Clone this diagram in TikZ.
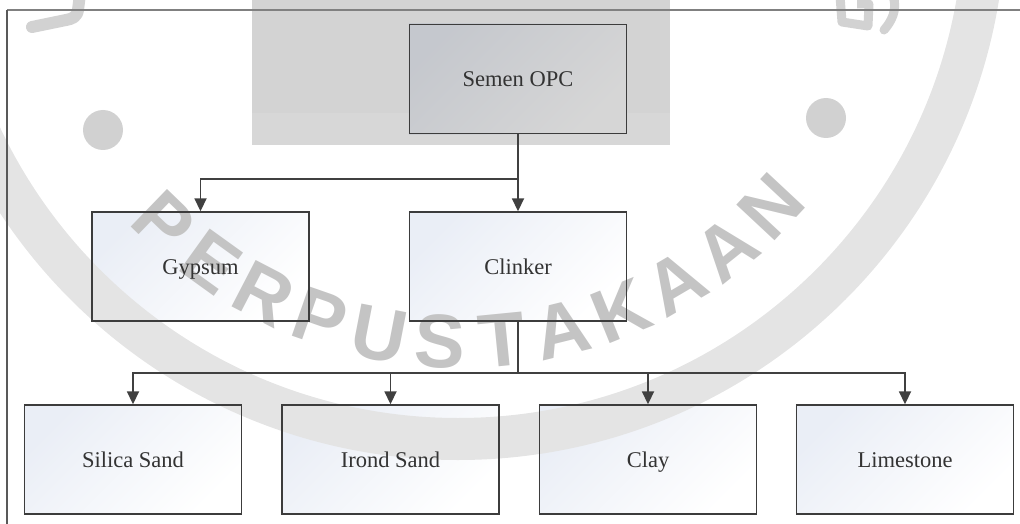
\documentclass[tikz,border=0pt]{standalone}
\usepackage{fontspec}
\setmainfont{Liberation Serif}
\newfontfamily\markfont{Liberation Sans}
\usetikzlibrary{arrows.meta}
\pgfdeclarelayer{fills}
\pgfdeclarelayer{mark}
\pgfsetlayers{fills,mark,main}
\definecolor{ink}{HTML}{333333}
\definecolor{edge}{HTML}{3C3C3C}
\definecolor{wire}{HTML}{404040}
\definecolor{mist}{HTML}{EAEEF6}
\definecolor{stamp}{HTML}{C4C4C4}
\definecolor{ring}{HTML}{E4E4E4}
\definecolor{slab}{HTML}{D3D3D3}
\definecolor{slablow}{HTML}{D7D7D7}
\definecolor{dot}{HTML}{D1D1D1}
\definecolor{glyph}{HTML}{D2D2D2}
\begin{document}
\begin{tikzpicture}[x=1pt,y=-1pt,
  box/.style={draw=edge, line width=1.4pt, minimum width=217pt, minimum height=109pt,
    inner sep=0pt, text=ink, text height=20pt, text depth=5pt,
    font=\fontsize{22.5}{27}\selectfont},
  arr/.style={draw=wire, line width=1.8pt, -{Triangle[width=12pt,length=13pt]}},
  boxfill/.style={top color=mist, bottom color=white, shading angle=45},
  letter/.style={text=stamp, inner sep=0pt,
    font=\markfont\bfseries\fontsize{76}{76}\selectfont}]
\useasboundingbox (0,0) rectangle (1020,524);

% --- boxes ---
\node[box] (opc) at (518,79)      {Semen OPC};
\node[box] (gyp) at (200.5,266.5) {Gypsum};
\node[box] (clk) at (518,266.5)   {Clinker};
\node[box] (sil) at (133,459.5)   {Silica Sand};
\node[box] (irn) at (390.5,459.5) {Irond Sand};
\node[box] (cly) at (648,459.5)   {Clay};
\node[box] (lim) at (905,459.5)   {Limestone};

% --- connectors ---
\draw[arr] (opc.south) -- ++(0,45) -| (gyp.north);
\draw[arr] (opc.south) -- (clk.north);
\foreach \n in {sil,irn,cly,lim}
  \draw[arr] (clk.south) -- ++(0,51) -| (\n.north);

% --- frame ---
\draw[draw=black!50, line width=1.6pt] (7,10) -- (1020,10);
\draw[draw=black!65, line width=1.2pt] (7,10) -- (7,524);

% --- box fills and grey panel ---
\begin{pgfonlayer}{fills}
  \fill[slab] (252,0) rectangle (670,145);
  \fill[slablow] (252,113) rectangle (670,145);
  \shade[top color=black!20!mist!85, bottom color=black!16, shading angle=45]
    (opc.north west) rectangle (opc.south east);
  \foreach \n in {gyp,clk,sil,irn,cly,lim}
    \shade[boxfill] (\n.north west) rectangle (\n.south east);
\end{pgfonlayer}

% --- seal ---
\begin{pgfonlayer}{mark}
\begin{scope}
  \clip (0,0) rectangle (1020,524);
  \draw[ring, line width=42pt] (458,-88) circle[radius=527pt];
  \fill[dot] (103,130) circle[radius=20pt];
  \fill[dot] (826,118) circle[radius=20pt];
  \draw[glyph, line width=12pt, line cap=round, line join=round]
    (80,-6) -- (78,10) .. controls (77,17) and (72,19) .. (66,20) -- (32,27);
  \draw[glyph, line width=9pt, line join=round]
    (840,-4) -- (842,22) -- (868,26) -- (869,4) -- (857,4);
  \draw[glyph, line width=9pt, line cap=round]
    (893,-4) .. controls (898,10) and (891,22) .. (884,30);
  \foreach \ch [count=\i from 0] in {P,E,R,P,U,S,T,A,K,A,A,N}{
    \pgfmathsetmacro\t{134-8.27*\i}
    \pgfmathsetmacro\r{90-\t}
    \node[letter, rotate=\r] (wm\i) at ({460+426*cos(\t)},{-84+426*sin(\t)}) {\ch};
  }
\end{scope}
\end{pgfonlayer}
\end{tikzpicture}
\end{document}
